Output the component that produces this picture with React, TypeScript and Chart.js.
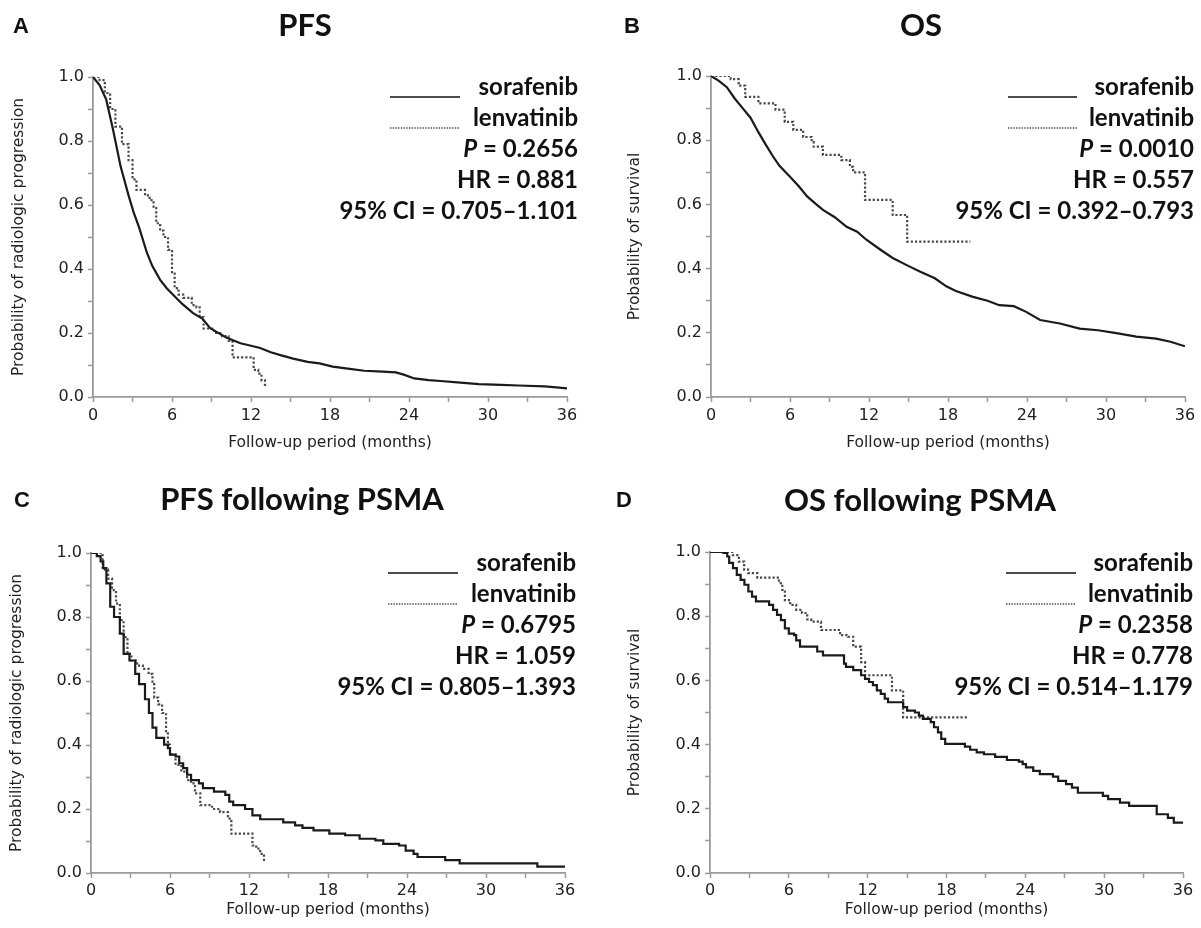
import React, { useEffect, useRef } from 'react';
import { Chart, registerables } from 'chart.js';

Chart.register(...registerables);

// ---------------- DATA ----------------
// Panel A: PFS
const pfsSoraMonths = [0, 0.5, 1.0, 1.5, 2.1, 2.7, 3.1, 3.5, 4.1, 4.5, 5.1, 5.6, 6.1, 6.8, 7.6, 8.3, 8.9, 9.6, 10.2, 11.2, 12.0, 12.7, 13.5, 14.3, 15.2, 16.3, 17.2, 18.2, 19.5, 20.6, 22.0, 23.0, 23.6, 24.4, 25.5, 26.4, 27.9, 29.3, 31.0, 32.3, 34.3, 35.2, 36];
const pfsSoraSurv = [1.0, 0.975, 0.93, 0.84, 0.72, 0.63, 0.575, 0.53, 0.45, 0.41, 0.366, 0.34, 0.319, 0.29, 0.262, 0.245, 0.215, 0.198, 0.184, 0.168, 0.16, 0.153, 0.14, 0.13, 0.12, 0.11, 0.105, 0.095, 0.088, 0.082, 0.079, 0.077, 0.07, 0.058, 0.053, 0.05, 0.045, 0.04, 0.038, 0.036, 0.033, 0.03, 0.027];
const pfsLenvMonths = [0, 0.5, 0.9, 1.3, 1.7, 2.2, 2.7, 3.0, 3.3, 3.95, 4.3, 4.6, 4.8, 5.1, 5.35, 5.7, 6.0, 6.2, 6.5, 6.85, 7.5, 7.85, 8.1, 8.4, 9.2, 9.8, 10.3, 10.6, 12.2, 12.55, 12.8, 13.06, 13.15];
const pfsLenvSurv = [1.0, 0.99, 0.95, 0.9, 0.845, 0.79, 0.74, 0.68, 0.647, 0.63, 0.615, 0.595, 0.543, 0.52, 0.5, 0.46, 0.39, 0.34, 0.32, 0.31, 0.287, 0.28, 0.25, 0.214, 0.2, 0.19, 0.175, 0.124, 0.085, 0.073, 0.052, 0.038, 0.038];

// Panel B: OS
const osSoraMonths = [0, 0.6, 1.2, 1.8, 2.4, 3.0, 3.6, 4.1, 4.7, 5.2, 6.0, 6.7, 7.3, 8.0, 8.5, 9.4, 10.3, 11.1, 11.8, 12.9, 13.8, 14.9, 15.9, 17.0, 17.9, 18.6, 19.9, 21.0, 21.9, 23.0, 23.9, 25.0, 26.5, 28.0, 29.4, 30.9, 32.3, 33.8, 34.9, 36];
const osSoraSurv = [1.0, 0.985, 0.965, 0.93, 0.9, 0.87, 0.825, 0.79, 0.75, 0.72, 0.686, 0.655, 0.625, 0.6, 0.583, 0.56, 0.53, 0.515, 0.49, 0.458, 0.433, 0.41, 0.39, 0.37, 0.344, 0.33, 0.312, 0.3, 0.286, 0.283, 0.266, 0.24, 0.229, 0.213, 0.208, 0.198, 0.188, 0.182, 0.172, 0.158];
const osLenvMonths = [0, 1.5, 2.1, 2.6, 3.6, 4.9, 5.6, 6.25, 7.0, 7.65, 7.8, 8.5, 9.9, 10.55, 10.8, 11.7, 13.8, 14.9, 19.7];
const osLenvSurv = [1.0, 0.99, 0.97, 0.935, 0.915, 0.895, 0.857, 0.832, 0.81, 0.795, 0.78, 0.754, 0.738, 0.717, 0.70, 0.614, 0.567, 0.484, 0.484];

// Panel C: PFS following PSMA
const pfsPsmaSoraMonths = [0, 0.44, 0.73, 0.93, 1.17, 1.46, 1.75, 2.19, 2.48, 2.92, 3.36, 3.65, 4.1, 4.4, 4.67, 4.96, 5.55, 5.84, 6.0, 6.42, 6.7, 7.0, 7.3, 7.6, 8.2, 8.5, 9.34, 10.2, 10.5, 10.8, 11.7, 12.26, 12.85, 14.6, 15.5, 16.06, 16.9, 18.1, 19.3, 20.4, 21.6, 22.2, 23.4, 23.9, 24.5, 24.8, 26.9, 28.0, 33.9, 36];
const pfsPsmaSoraSurv = [1.0, 0.99, 0.974, 0.953, 0.905, 0.832, 0.8, 0.748, 0.685, 0.664, 0.622, 0.59, 0.543, 0.5, 0.454, 0.422, 0.401, 0.39, 0.37, 0.364, 0.343, 0.328, 0.307, 0.29, 0.28, 0.265, 0.254, 0.244, 0.223, 0.212, 0.2, 0.18, 0.168, 0.158, 0.149, 0.141, 0.133, 0.123, 0.118, 0.107, 0.102, 0.091, 0.086, 0.07, 0.06, 0.05, 0.04, 0.03, 0.02, 0.02];
const pfsPsmaLenvMonths = [0, 0.5, 0.88, 1.3, 1.6, 1.9, 2.19, 2.48, 2.77, 3.07, 3.5, 3.94, 4.38, 4.67, 4.8, 5.1, 5.4, 5.7, 5.84, 6.0, 6.42, 6.86, 7.3, 7.6, 7.9, 8.3, 9.2, 9.8, 10.4, 10.66, 12.26, 12.55, 12.85, 13.14, 13.2];
const pfsPsmaLenvSurv = [1.0, 1.0, 0.948, 0.92, 0.884, 0.842, 0.79, 0.737, 0.685, 0.664, 0.648, 0.638, 0.622, 0.59, 0.548, 0.527, 0.5, 0.443, 0.401, 0.37, 0.338, 0.317, 0.29, 0.28, 0.249, 0.212, 0.2, 0.19, 0.17, 0.123, 0.086, 0.076, 0.06, 0.036, 0.036];

// Panel D: OS following PSMA
const osPsmaSoraMonths = [0, 1.02, 1.31, 1.46, 1.75, 2.04, 2.33, 2.62, 2.92, 3.2, 3.5, 4.5, 4.8, 5.1, 5.4, 5.7, 6.0, 6.4, 6.56, 6.85, 8.16, 8.6, 10.2, 10.35, 10.9, 11.5, 11.8, 12.1, 12.4, 12.7, 13.0, 13.3, 13.55, 14.7, 15.0, 15.6, 15.9, 16.2, 16.8, 17.05, 17.35, 17.6, 17.9, 19.4, 19.8, 20.3, 20.85, 21.7, 22.6, 23.5, 23.8, 24.05, 24.6, 25.1, 26.1, 26.5, 27.1, 27.55, 28.0, 29.9, 30.3, 31.2, 31.9, 34.0, 34.85, 35.3, 36];
const osPsmaSoraSurv = [1.0, 0.997, 0.986, 0.966, 0.95, 0.929, 0.913, 0.898, 0.877, 0.861, 0.846, 0.835, 0.82, 0.804, 0.788, 0.762, 0.746, 0.741, 0.725, 0.705, 0.69, 0.678, 0.652, 0.642, 0.632, 0.616, 0.605, 0.595, 0.585, 0.569, 0.558, 0.543, 0.532, 0.517, 0.506, 0.5, 0.49, 0.48, 0.47, 0.454, 0.438, 0.418, 0.402, 0.394, 0.384, 0.376, 0.37, 0.362, 0.352, 0.347, 0.339, 0.329, 0.318, 0.308, 0.3, 0.287, 0.277, 0.266, 0.25, 0.24, 0.23, 0.219, 0.209, 0.183, 0.172, 0.157, 0.157];
const osPsmaLenvMonths = [0, 1.75, 2.2, 2.6, 2.9, 3.6, 5.25, 5.5, 5.7, 6.1, 6.56, 7.0, 7.4, 7.7, 8.45, 9.9, 10.5, 10.9, 11.5, 11.8, 13.85, 14.7, 19.7];
const osPsmaLenvSurv = [1.0, 0.99, 0.97, 0.945, 0.934, 0.92, 0.903, 0.882, 0.85, 0.835, 0.82, 0.81, 0.79, 0.783, 0.757, 0.741, 0.736, 0.705, 0.657, 0.616, 0.569, 0.485, 0.485];

// Labels & statistics
const panelLetters = ['A', 'B', 'C', 'D'];
const panelTitles = ['PFS', 'OS', 'PFS following PSMA', 'OS following PSMA'];
const yAxisTitles = ['Probability of radiologic progression', 'Probability of survival', 'Probability of radiologic progression', 'Probability of survival'];
const xAxisTitle = 'Follow-up period (months)';
const seriesNames = ['sorafenib', 'lenvatinib'];
const pValues = ['0.2656', '0.0010', '0.6795', '0.2358'];
const hrValues = ['0.881', '0.557', '1.059', '0.778'];
const ciValues = ['0.705–1.101', '0.392–0.793', '0.805–1.393', '0.514–1.179'];
const xTickLabels = [0, 6, 12, 18, 24, 30, 36];
const yTickLabels = [0.0, 0.2, 0.4, 0.6, 0.8, 1.0];

const soraMonths = [pfsSoraMonths, osSoraMonths, pfsPsmaSoraMonths, osPsmaSoraMonths];
const soraSurv = [pfsSoraSurv, osSoraSurv, pfsPsmaSoraSurv, osPsmaSoraSurv];
const lenvMonths = [pfsLenvMonths, osLenvMonths, pfsPsmaLenvMonths, osPsmaLenvMonths];
const lenvSurv = [pfsLenvSurv, osLenvSurv, pfsPsmaLenvSurv, osPsmaLenvSurv];
const soraStepped = [false, false, true, true];

// ---------------- LAYOUT (positions only) ----------------
type Layout = {
  x: number; y: number; w: number; h: number;
  left: number; right: number; top: number; bottom: number;
  yTitleCX: number; xTitleCY: number; xTickPad: number;
  letterX: number; letterBase: number;
  titleCX: number; titleBase: number;
  statsRight: number; statsBase: number; legX1: number; legX2: number;
};

const layouts: Layout[] = [
  { x: 0, y: 0, w: 600, h: 464, left: 93, right: 567, top: 77, bottom: 397, yTitleCX: 19, xTitleCY: 443, xTickPad: 4,
    letterX: 13, letterBase: 33, titleCX: 305, titleBase: 36, statsRight: 578, statsBase: 95, legX1: 390, legX2: 460 },
  { x: 600, y: 0, w: 601, h: 464, left: 111, right: 585, top: 76, bottom: 397, yTitleCX: 35, xTitleCY: 443, xTickPad: 4,
    letterX: 24, letterBase: 33, titleCX: 321, titleBase: 36, statsRight: 594, statsBase: 95, legX1: 408, legX2: 477 },
  { x: 0, y: 464, w: 600, h: 464, left: 91, right: 565, top: 89, bottom: 409, yTitleCX: 17, xTitleCY: 446, xTickPad: 3,
    letterX: 14, letterBase: 43, titleCX: 302, titleBase: 46, statsRight: 576, statsBase: 107, legX1: 388, legX2: 458 },
  { x: 600, y: 464, w: 601, h: 464, left: 110, right: 583, top: 88, bottom: 409, yTitleCX: 35, xTitleCY: 446, xTickPad: 3,
    letterX: 16, letterBase: 43, titleCX: 320, titleBase: 47, statsRight: 593, statsBase: 107, legX1: 406, legX2: 476 },
];

const AXIS_COLOR = '#9a9a9a';
const TEXT_COLOR = '#222';
const TICK_FONT = { family: '"DejaVu Sans", Verdana, sans-serif', size: 16 };
const AXIS_TITLE_FONT = { family: '"DejaVu Sans", Verdana, sans-serif', size: 15.5 };
const STAT_FONT = 'Lato, "Open Sans", sans-serif';

function zip(xs: number[], ys: number[]) {
  return xs.map((x, i) => ({ x, y: ys[i] }));
}

function makeAnnotPlugin(i: number) {
  const L = layouts[i];
  return {
    id: 'annot' + i,
    afterDraw(chart: any) {
      const ctx: CanvasRenderingContext2D = chart.ctx;
      ctx.save();
      ctx.fillStyle = '#111';
      ctx.textBaseline = 'alphabetic';
      // panel letter
      ctx.font = 'bold 22px "Liberation Sans", Arial, sans-serif';
      ctx.textAlign = 'left';
      ctx.fillText(panelLetters[i], L.letterX, L.letterBase);
      // title
      ctx.font = `bold 31px ${STAT_FONT}`;
      ctx.textAlign = 'center';
      ctx.fillText(panelTitles[i], L.titleCX, L.titleBase);
      // stats
      const lh = 31;
      ctx.font = `bold 24px ${STAT_FONT}`;
      ctx.textAlign = 'right';
      ctx.fillText(seriesNames[0], L.statsRight, L.statsBase);
      ctx.fillText(seriesNames[1], L.statsRight, L.statsBase + lh);
      const rest = ' = ' + pValues[i];
      ctx.fillText(rest, L.statsRight, L.statsBase + 2 * lh);
      const rw = ctx.measureText(rest).width;
      ctx.font = `italic bold 24px ${STAT_FONT}`;
      ctx.fillText('P', L.statsRight - rw, L.statsBase + 2 * lh);
      ctx.font = `bold 24px ${STAT_FONT}`;
      ctx.fillText('HR = ' + hrValues[i], L.statsRight, L.statsBase + 3 * lh);
      ctx.fillText('95% CI = ' + ciValues[i], L.statsRight, L.statsBase + 4 * lh);
      // legend lines
      ctx.strokeStyle = '#111';
      ctx.lineWidth = 1.5;
      ctx.beginPath();
      ctx.moveTo(L.legX1, L.statsBase + 2);
      ctx.lineTo(L.legX2, L.statsBase + 2);
      ctx.stroke();
      ctx.strokeStyle = '#555';
      ctx.setLineDash([1.5, 1.2]);
      ctx.beginPath();
      ctx.moveTo(L.legX1, L.statsBase + lh + 2);
      ctx.lineTo(L.legX2, L.statsBase + lh + 2);
      ctx.stroke();
      ctx.restore();
    },
  };
}

function makeConfig(i: number): any {
  const L = layouts[i];
  const padLeft = 2;
  const titleLineH = AXIS_TITLE_FONT.size * 1.2;
  return {
    type: 'line',
    data: {
      datasets: [
        {
          label: seriesNames[0],
          data: zip(soraMonths[i], soraSurv[i]),
          borderColor: '#1a1a1a',
          borderWidth: 2.2,
          pointRadius: 0,
          stepped: soraStepped[i] ? 'before' : false,
          tension: 0,
          fill: false,
        },
        {
          label: seriesNames[1],
          data: zip(lenvMonths[i], lenvSurv[i]),
          borderColor: '#4a4a4a',
          borderWidth: 2.2,
          borderDash: [2.2, 2],
          pointRadius: 0,
          stepped: 'before',
          fill: false,
        },
      ],
    },
    options: {
      animation: false,
      responsive: false,
      maintainAspectRatio: false,
      events: [],
      layout: { padding: { left: padLeft, right: L.w - L.right, top: L.top, bottom: 0 } },
      plugins: { legend: { display: false }, tooltip: { enabled: false }, title: { display: false } },
      scales: {
        x: {
          type: 'linear',
          min: 0,
          max: 36,
          ticks: {
            stepSize: 3,
            autoSkip: false,
            maxRotation: 0,
            padding: L.xTickPad,
            color: TEXT_COLOR,
            font: TICK_FONT,
            callback: (v: number) => (xTickLabels.includes(Math.round(v)) ? String(Math.round(v)) : ''),
          },
          grid: { display: true, drawOnChartArea: false, drawTicks: true, tickLength: 5, tickColor: AXIS_COLOR, tickWidth: 1.5 },
          border: { display: true, color: AXIS_COLOR, width: 1.8 },
          title: {
            display: true,
            text: xAxisTitle,
            color: TEXT_COLOR,
            font: AXIS_TITLE_FONT,
            padding: { top: 0, bottom: L.h - L.xTitleCY - titleLineH / 2 },
          },
          afterFit: (s: any) => { s.height = L.h - L.bottom; },
        },
        y: {
          type: 'linear',
          min: 0,
          max: 1,
          ticks: {
            stepSize: 0.1,
            autoSkip: false,
            padding: 4,
            color: TEXT_COLOR,
            font: TICK_FONT,
            callback: (v: number) => {
              const r = Math.round(v * 10) / 10;
              return yTickLabels.some((t) => Math.abs(t - r) < 1e-6) ? r.toFixed(1) : '';
            },
          },
          grid: { display: true, drawOnChartArea: false, drawTicks: true, tickLength: 5, tickColor: AXIS_COLOR, tickWidth: 1.5 },
          border: { display: true, color: AXIS_COLOR, width: 1.8 },
          title: {
            display: true,
            text: yAxisTitles[i],
            color: TEXT_COLOR,
            font: AXIS_TITLE_FONT,
            padding: { top: L.yTitleCX - padLeft - titleLineH / 2, bottom: 0 },
          },
          afterFit: (s: any) => { s.width = L.left - padLeft; },
        },
      },
    },
    plugins: [makeAnnotPlugin(i)],
  };
}

function Panel({ i }: { i: number }) {
  const ref = useRef<HTMLCanvasElement | null>(null);
  useEffect(() => {
    if (!ref.current) return;
    const chart = new Chart(ref.current, makeConfig(i));
    return () => chart.destroy();
  }, [i]);
  const L = layouts[i];
  return (
    <canvas
      ref={ref}
      width={L.w}
      height={L.h}
      style={{ position: 'absolute', left: L.x, top: L.y, width: L.w, height: L.h }}
    />
  );
}

export default function App() {
  return (
    <div style={{ position: 'absolute', left: 0, top: 0, width: 1201, height: 928, background: '#fff', overflow: 'hidden' }}>
      {layouts.map((_, i) => (
        <Panel key={i} i={i} />
      ))}
    </div>
  );
}
